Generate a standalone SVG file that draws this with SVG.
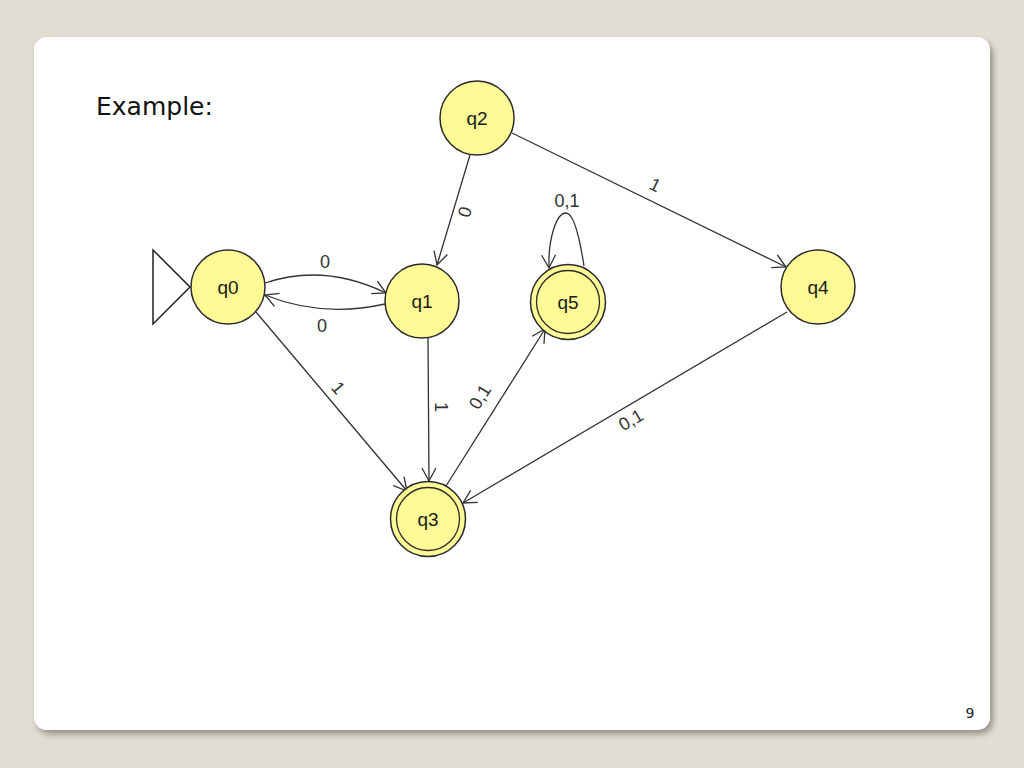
<svg xmlns="http://www.w3.org/2000/svg" width="1024" height="768" viewBox="0 0 1024 768">
<defs>
<filter id="sh" x="-5%" y="-5%" width="110%" height="115%">
<feGaussianBlur in="SourceAlpha" stdDeviation="3"/>
<feOffset dx="3" dy="4" result="b"/>
<feComponentTransfer><feFuncA type="linear" slope="0.35"/></feComponentTransfer>
<feMerge><feMergeNode/><feMergeNode in="SourceGraphic"/></feMerge>
</filter>
<marker id="arr" markerUnits="userSpaceOnUse" markerWidth="16" markerHeight="16" refX="14" refY="8" orient="auto" overflow="visible">
<path d="M1,1 L14,8 L1,15" fill="none" stroke="#333" stroke-width="1.3"/>
</marker>
</defs>
<style>
.st{fill:#fff996;stroke:#2b2b2b;stroke-width:1.5}
.in{fill:none;stroke:#2b2b2b;stroke-width:1.3}
.nl{font-family:"Liberation Sans",Arial,sans-serif;font-size:19px;fill:#1a1a1a;text-anchor:middle}
.el{font-family:"Liberation Sans",Arial,sans-serif;font-size:18px;fill:#333;text-anchor:middle}
.ed{fill:none;stroke:#333;stroke-width:1.3;marker-end:url(#arr)}
</style>
<rect width="1024" height="768" fill="#e1ddd3"/>
<rect x="34" y="37" width="956" height="693" rx="13" fill="#ffffff" filter="url(#sh)"/>
<text x="96" y="115" font-family="DejaVu Sans,Verdana,sans-serif" font-size="25" fill="#111">Example:</text>
<text x="970" y="718" font-family="DejaVu Sans,Verdana,sans-serif" font-size="14" fill="#222" text-anchor="middle">9</text>

<g id="connectors">
<path class="ed" d="M265,283 Q324,263 386,293"/>
<path class="ed" d="M385,304 Q322,318 265,295"/>
<path class="ed" d="M256,312 L407,491"/>
<path class="ed" d="M428,338 L429,481"/>
<path class="ed" d="M446,486 L545,329"/>
<path class="ed" d="M787,312 L463,503"/>
<path class="ed" d="M470,155 L437,265"/>
<path class="ed" d="M512,133 L786,267"/>
<path class="ed" d="M584,266 C580,240 574,213 566,213 C556,213 548,240 549,268"/>
<text class="el" x="325" y="268">0</text>
<text class="el" x="322" y="332">0</text>
<text class="el" transform="translate(338,388) rotate(49.8)" y="6">1</text>
<text class="el" transform="translate(441,407) rotate(90)" y="6">1</text>
<text class="el" transform="translate(480,397) rotate(-58)" y="6">0,1</text>
<text class="el" transform="translate(631,420) rotate(-30.5)" y="6">0,1</text>
<text class="el" transform="translate(465,212) rotate(-73)" y="6">0</text>
<text class="el" transform="translate(655,185) rotate(26)" y="6">1</text>
<text class="el" x="567" y="207">0,1</text>
</g>

<g id="start">
<path d="M153,250 L190,287 L153,324 Z" fill="none" stroke="#222" stroke-width="1.5"/>
</g>
<g id="q0"><circle class="st" cx="228" cy="287" r="37"/><text class="nl" x="228" y="294">q0</text></g>
<g id="q1"><circle class="st" cx="422" cy="301" r="37"/><text class="nl" x="422" y="308">q1</text></g>
<g id="q2"><circle class="st" cx="477" cy="118" r="37"/><text class="nl" x="477" y="125">q2</text></g>
<g id="q3"><circle class="st" cx="428" cy="519" r="37.5"/><circle class="in" cx="428" cy="519" r="31.5"/><text class="nl" x="428" y="526">q3</text></g>
<g id="q4"><circle class="st" cx="818" cy="287" r="37"/><text class="nl" x="818" y="294">q4</text></g>
<g id="q5"><circle class="st" cx="568" cy="302" r="37.5"/><circle class="in" cx="568" cy="302" r="31.5"/><text class="nl" x="568" y="309">q5</text></g>
</svg>
